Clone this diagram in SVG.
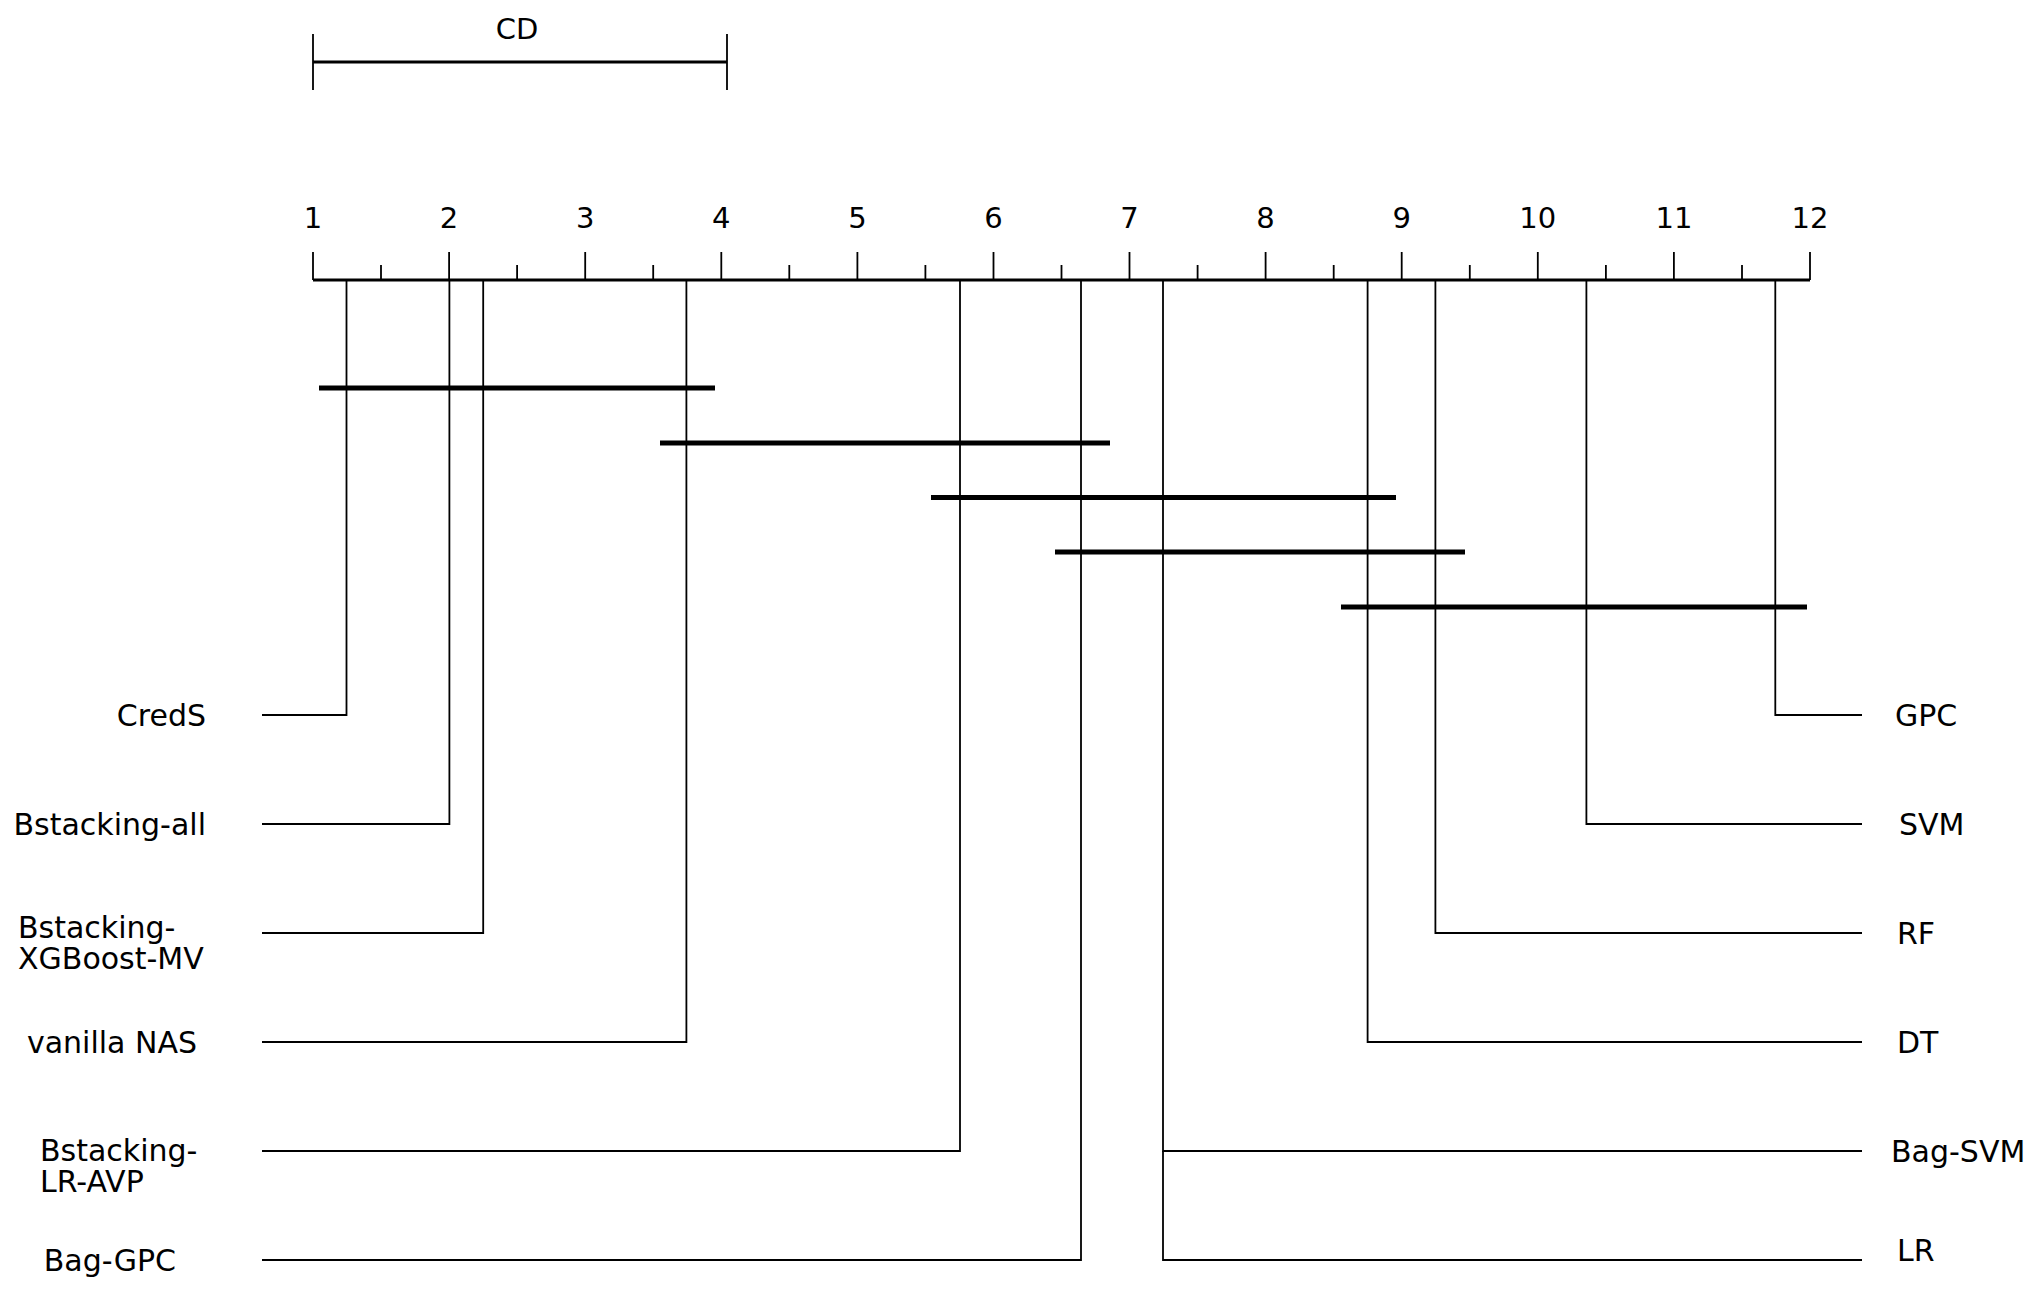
<svg xmlns="http://www.w3.org/2000/svg" width="2041" height="1290" viewBox="0 0 2041 1290">
<style>
text{font-family:"DejaVu Sans",sans-serif;font-size:30px;fill:#000}
.t{text-anchor:middle;font-size:29px}
.l{text-anchor:end}
.ln{stroke:#000;stroke-width:1.8;fill:none}
.ax{stroke:#000;stroke-width:3;fill:none}
.bar{stroke:#000;stroke-width:5;fill:none}
</style>
<rect width="2041" height="1290" fill="#fff"/>
<g id="cd">
<path class="ln" d="M313,34V90M727,34V90"/>
<path class="ax" d="M313,62H727"/>
<text class="t" x="517" y="39">CD</text>
</g>
<g id="axis">
<path class="ax" d="M313,280H1810"/>
<path class="ln" d="M313,252V280M449.1,252V280M585.2,252V280M721.3,252V280M857.4,252V280M993.5,252V280M1129.5,252V280M1265.6,252V280M1401.7,252V280M1537.8,252V280M1673.9,252V280M1810,252V280"/>
<path class="ln" d="M381,265V280M517.1,265V280M653.2,265V280M789.3,265V280M925.4,265V280M1061.5,265V280M1197.6,265V280M1333.7,265V280M1469.8,265V280M1605.9,265V280M1742,265V280"/>
<text class="t" x="313" y="228">1</text>
<text class="t" x="449.1" y="228">2</text>
<text class="t" x="585.2" y="228">3</text>
<text class="t" x="721.3" y="228">4</text>
<text class="t" x="857.4" y="228">5</text>
<text class="t" x="993.5" y="228">6</text>
<text class="t" x="1129.5" y="228">7</text>
<text class="t" x="1265.6" y="228">8</text>
<text class="t" x="1401.7" y="228">9</text>
<text class="t" x="1537.8" y="228">10</text>
<text class="t" x="1673.9" y="228">11</text>
<text class="t" x="1810" y="228">12</text>
</g>
<g id="connectors">
<path class="ln" d="M346.5,280V715H262"/>
<path class="ln" d="M449.4,280V824H262"/>
<path class="ln" d="M483.2,280V933H262"/>
<path class="ln" d="M686.4,280V1042H262"/>
<path class="ln" d="M960,280V1151H262"/>
<path class="ln" d="M1081,280V1260H262"/>
<path class="ln" d="M1775.3,280V715H1862"/>
<path class="ln" d="M1586.4,280V824H1862"/>
<path class="ln" d="M1435.4,280V933H1862"/>
<path class="ln" d="M1367.6,280V1042H1862"/>
<path class="ln" d="M1163,280V1151H1862"/>
<path class="ln" d="M1163,1151V1260H1862"/>
</g>
<g id="bars">
<path class="bar" d="M319,388H715M660,443H1110M931,497.5H1396M1055,552H1465M1341,607H1807"/>
</g>
<g id="n-creds"><text class="l" x="206" y="726">CredS</text></g>
<g id="n-bstacking-all"><text class="l" x="206" y="835">Bstacking-all</text></g>
<g id="n-bstacking-xgb"><text x="18" y="938">Bstacking-</text><text x="18" y="969">XGBoost-MV</text></g>
<g id="n-vanilla"><text class="l" x="197" y="1053">vanilla NAS</text></g>
<g id="n-bstacking-lr"><text x="40" y="1161">Bstacking-</text><text x="40" y="1192">LR-AVP</text></g>
<g id="n-baggpc"><text class="l" x="176" y="1271">Bag-GPC</text></g>
<g id="n-gpc"><text x="1895" y="726">GPC</text></g>
<g id="n-svm"><text x="1899" y="835">SVM</text></g>
<g id="n-rf"><text x="1897" y="944">RF</text></g>
<g id="n-dt"><text x="1897" y="1053">DT</text></g>
<g id="n-bagsvm"><text x="1891" y="1162">Bag-SVM</text></g>
<g id="n-lr"><text x="1897" y="1261">LR</text></g>
</svg>
